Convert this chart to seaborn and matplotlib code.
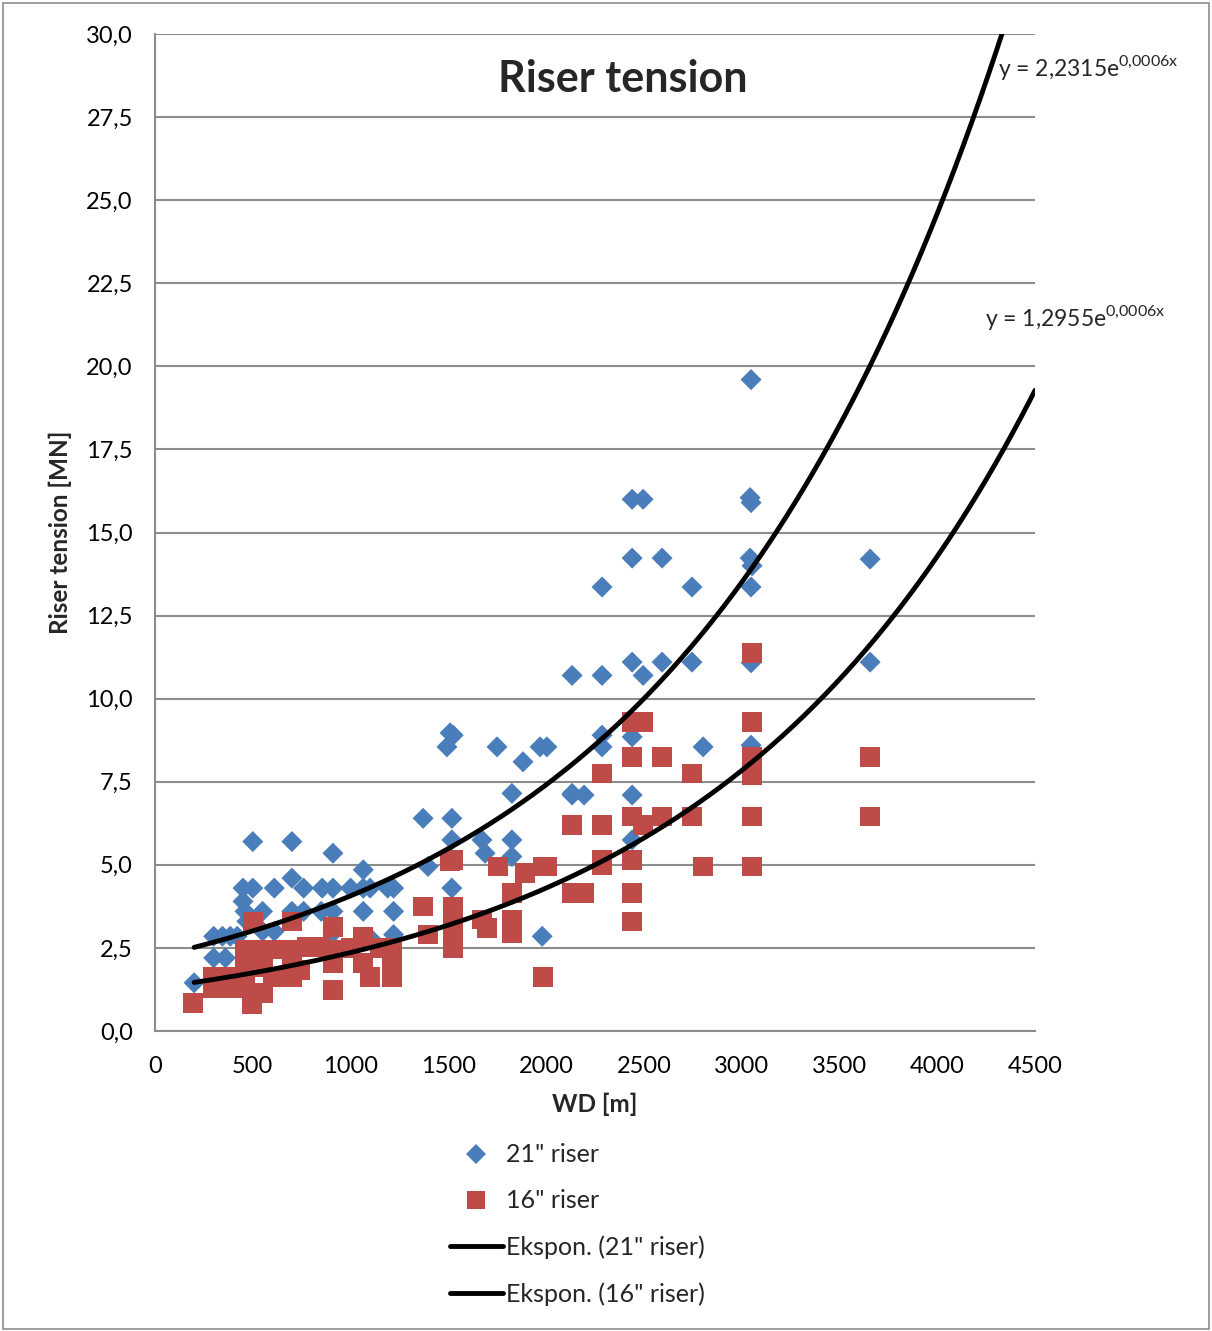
import matplotlib
matplotlib.use("Agg")
import matplotlib.pyplot as plt
from matplotlib.patches import Rectangle
from matplotlib.lines import Line2D
import seaborn as sns
import numpy as np
import pandas as pd

# ---- data ----
wd_21 = [200, 300, 360, 300, 345, 385, 420, 450, 500, 450, 460, 550, 470,
         500, 700, 910, 610, 700, 760, 855, 910, 1000, 1065, 1065, 1100, 1190, 1220,
         700, 760, 850, 910, 1065, 1220, 610, 910, 1220, 1100, 550,
         1509, 1493, 1525, 1749, 1882, 1969, 2004, 1825, 2133, 1371, 1518, 1518,
         1672, 1825, 1688, 1825, 1396, 1518, 1980,
         2440, 2496, 3043, 3048, 2440, 2593, 3043, 3053, 3657, 2286, 2746, 3048,
         2440, 2593, 2746, 3048, 3657, 2133, 2286, 2496, 2286, 2440, 2286, 2803,
         3048, 2133, 2194, 2440, 2440, 3048]
t_21 = [1.45, 2.2, 2.2, 2.85, 2.85, 2.85, 2.85, 4.3, 4.3, 3.9, 3.6, 3.6, 3.3,
        5.7, 5.7, 5.35, 4.3, 4.6, 4.3, 4.3, 4.3, 4.3, 4.85, 4.3, 4.3, 4.3, 4.3,
        3.6, 3.6, 3.6, 3.6, 3.6, 3.6, 3.0, 2.95, 2.9, 2.8, 3.0,
        8.97, 8.55, 8.9, 8.55, 8.1, 8.55, 8.55, 7.15, 7.15, 6.4, 6.4, 5.75,
        5.75, 5.75, 5.35, 5.25, 4.95, 4.3, 2.85,
        16.0, 16.0, 16.05, 15.9, 14.23, 14.23, 14.23, 14.0, 14.2, 13.36, 13.36, 13.36,
        11.1, 11.1, 11.1, 11.08, 11.1, 10.7, 10.7, 10.7, 8.9, 8.85, 8.55, 8.55,
        8.6, 7.1, 7.1, 7.1, 5.75, 19.6]

wd_16 = [194, 497, 297, 297, 358, 358, 420, 460, 460, 500, 460, 460, 500, 500,
         552, 552, 552, 603, 603, 650, 700, 700, 700, 700, 741, 777, 844, 910, 910,
         910, 910, 1000, 1065, 1065, 1100, 1150, 1212, 1212, 1212, 500, 420,
         1509, 1525, 1754, 1892, 1985, 2004, 1371, 1525, 1525, 1525, 1525, 1825,
         1825, 1825, 1396, 1672, 1698, 1985,
         3053, 2440, 2496, 3053, 2440, 2593, 3053, 3053, 3657, 2286, 2746, 3053,
         2133, 2286, 2440, 2496, 2593, 2746, 3053, 3657, 2286, 2286, 2440, 2803,
         3053, 2133, 2194, 2440, 2440]
t_16 = [0.85, 0.8, 1.62, 1.3, 1.62, 1.3, 1.3, 1.62, 1.3, 1.14, 2.0, 2.45, 2.45, 3.3,
        2.45, 1.93, 1.14, 1.63, 2.45, 2.45, 2.45, 3.3, 2.1, 1.63, 1.83, 2.53, 2.53, 2.45, 3.13,
        2.05, 1.23, 2.5, 2.83, 2.05, 1.62, 2.5, 2.5, 2.05, 1.62, 1.95, 1.62,
        5.1, 5.15, 4.95, 4.75, 4.95, 4.95, 3.75, 3.75, 3.35, 2.95, 2.5, 4.15,
        3.35, 2.95, 2.9, 3.35, 3.1, 1.62,
        11.37, 9.3, 9.3, 9.3, 8.25, 8.25, 8.25, 7.85, 8.25, 7.75, 7.75, 7.7,
        6.2, 6.2, 6.45, 6.2, 6.45, 6.45, 6.45, 6.45, 5.15, 5.0, 5.15, 4.95,
        4.95, 4.15, 4.15, 4.15, 3.3]

# trendline coefficients (as displayed)
a_21, b_21 = 2.2315, 0.0006
a_16, b_16 = 1.2955, 0.0006
trend_x_start = 200
trend_x_end = 4500

x_ticks = [0, 500, 1000, 1500, 2000, 2500, 3000, 3500, 4000, 4500]
y_ticks = [0, 2.5, 5, 7.5, 10, 12.5, 15, 17.5, 20, 22.5, 25, 27.5, 30]

BLUE = "#4A7EBB"
RED = "#BE4B48"
GRID = "#8C8C8C"

sns.set_theme(style="white")
FONT = ["Lato", "DejaVu Sans"]
plt.rcParams["font.family"] = FONT
plt.rcParams["mathtext.fontset"] = "custom"
plt.rcParams["mathtext.rm"] = "Lato"

fig = plt.figure(figsize=(12.12, 13.31), dpi=100)
ax = fig.add_axes([155/1212, 1 - 1031/1331, (1035-155)/1212, (1031-34)/1331])

df21 = pd.DataFrame({"WD": wd_21, "T": t_21})
df16 = pd.DataFrame({"WD": wd_16, "T": t_16})

sns.scatterplot(data=df21, x="WD", y="T", marker="D", s=115, color=BLUE,
                edgecolor="none", ax=ax, zorder=3, legend=False)
sns.scatterplot(data=df16, x="WD", y="T", marker="s", s=200, color=RED,
                edgecolor="none", ax=ax, zorder=4, legend=False)

xx = np.linspace(trend_x_start, trend_x_end, 400)
tr = pd.DataFrame({"x": xx, "y21": a_21*np.exp(b_21*xx), "y16": a_16*np.exp(b_16*xx)})
sns.lineplot(data=tr, x="x", y="y21", color="black", lw=3.5, ax=ax, zorder=5)
sns.lineplot(data=tr, x="x", y="y16", color="black", lw=3.5, ax=ax, zorder=5)

ax.set_xlim(0, 4500)
ax.set_ylim(0, 30)
ax.set_xticks(x_ticks)
ax.set_xticklabels([str(v) for v in x_ticks])
ax.set_yticks(y_ticks)
ax.set_yticklabels([f"{v:.1f}".replace(".", ",") for v in y_ticks])
ax.tick_params(axis="both", labelsize=17, colors="black", length=6, width=1.2,
               direction="out")
ax.tick_params(axis="y", pad=10)
ax.tick_params(axis="x", pad=12)
ax.tick_params(axis="both", color=GRID)
ax.yaxis.grid(True, color=GRID, lw=1.5)
ax.xaxis.grid(False)
ax.set_axisbelow(True)
for s in ["top", "right"]:
    ax.spines[s].set_visible(False)
for s in ["left", "bottom"]:
    ax.spines[s].set_color(GRID)
    ax.spines[s].set_linewidth(1.5)

ax.set_xlabel("WD [m]", fontsize=17.5, fontweight="bold", labelpad=11)
ax.set_ylabel("Riser tension [MN]", fontsize=17.5, fontweight="bold", labelpad=10)

ax.text(0.531, 0.955, "Riser tension", transform=ax.transAxes, ha="center",
        va="center", fontsize=31, fontweight="bold")

fig.text(998/1212, 1 - 67/1331, r"y = 2,2315e$^{\mathregular{0{,}0006x}}$",
         fontsize=16.5, ha="left", va="center")
fig.text(985/1212, 1 - 317/1331, r"y = 1,2955e$^{\mathregular{0{,}0006x}}$",
         fontsize=16.5, ha="left", va="center")

handles = [
    Line2D([], [], marker="D", color=BLUE, ls="none", markersize=10, markeredgewidth=0),
    Line2D([], [], marker="s", color=RED, ls="none", markersize=13, markeredgewidth=0),
    Line2D([], [], color="black", lw=3.5),
    Line2D([], [], color="black", lw=3.5),
]
labels = ['21" riser', '16" riser', 'Ekspon. (21" riser)', 'Ekspon. (16" riser)']
fig.legend(handles, labels, loc="upper left", bbox_to_anchor=(437/1212, 1 - 1131/1331),
           frameon=False, fontsize=18, handlelength=2.15, handletextpad=0.12,
           labelspacing=0.92, borderpad=0)

fig.add_artist(Rectangle((3/1212, 2/1331), 1206/1212, 1326/1331, transform=fig.transFigure,
                         fill=False, edgecolor="#8C8C8C", lw=1.2))

fig.savefig("out.png", dpi=100)
